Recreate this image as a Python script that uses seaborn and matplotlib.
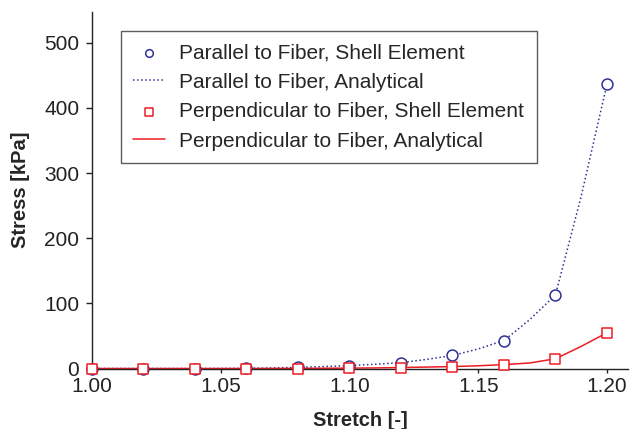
import matplotlib.pyplot as plt
import pandas as pd
import seaborn as sns

# Shell element results (every 0.02 in stretch)
stretch_fe = [1.00, 1.02, 1.04, 1.06, 1.08, 1.10, 1.12, 1.14, 1.16, 1.18, 1.20]
par_fe = [0, 0, 0, 0.3, 2, 4, 9, 20, 43, 113, 437]
perp_fe = [0, 0, 0, 0, 0, 0.5, 1.5, 3, 6, 15, 55]

# Analytical curves (read at 0.01 steps)
stretch_an = [1.00, 1.01, 1.02, 1.03, 1.04, 1.05, 1.06, 1.07, 1.08, 1.09, 1.10,
              1.11, 1.12, 1.13, 1.14, 1.15, 1.16, 1.17, 1.18, 1.19, 1.20]
par_an = [0, 0, 0, 0, 0, 0.1, 0.3, 0.8, 1.8, 3, 4.5,
          6.5, 9, 14, 20, 30, 43, 75, 113, 265, 437]
perp_an = [0, 0, 0, 0, 0, 0, 0, 0.1, 0.2, 0.4, 0.6,
           0.9, 1.5, 2.2, 3, 4.2, 6, 8.5, 15, 34, 55]

blue = "#2e3192"
red = "#ed1c24"

fe = pd.DataFrame({"stretch": stretch_fe, "par": par_fe, "perp": perp_fe})
an = pd.DataFrame({"stretch": stretch_an, "par": par_an, "perp": perp_an})

sns.set_style("ticks")
plt.rcParams["font.family"] = ["Liberation Sans", "DejaVu Sans"]

fig = plt.figure(figsize=(6.3, 4.29), dpi=100)
ax = fig.add_axes([0.1455, 0.141, 0.852, 0.832])

sns.lineplot(data=an, x="stretch", y="par", color=blue, linestyle=":", lw=1.1,
             label="Parallel to Fiber, Analytical", ax=ax, zorder=2)
sns.lineplot(data=an, x="stretch", y="perp", color=red, linestyle="-", lw=1.1,
             label="Perpendicular to Fiber, Analytical", ax=ax, zorder=2)
sns.scatterplot(data=fe, x="stretch", y="par", marker="o", s=62, facecolor="white",
                edgecolor=blue, linewidth=1.1, label="Parallel to Fiber, Shell Element",
                ax=ax, zorder=3, clip_on=False)
sns.scatterplot(data=fe, x="stretch", y="perp", marker="s", s=58, facecolor="white",
                edgecolor=red, linewidth=1.1, label="Perpendicular to Fiber, Shell Element",
                ax=ax, zorder=4, clip_on=False)

ax.set_xlim(1.0, 1.2083)
ax.set_ylim(0, 548)
ax.set_xticks([1.00, 1.05, 1.10, 1.15, 1.20])
ax.set_xticklabels(["1.00", "1.05", "1.10", "1.15", "1.20"])
ax.set_yticks([0, 100, 200, 300, 400, 500])
ax.tick_params(labelsize=15, width=1, colors="#222222")
ax.tick_params(axis="x", length=3, pad=3)
ax.tick_params(axis="y", length=4, pad=5)
ax.set_xlabel("Stretch [-]", fontsize=14.5, fontweight="bold", labelpad=11)
ax.set_ylabel("Stress [kPa]", fontsize=14.5, fontweight="bold", labelpad=10)
sns.despine(ax=ax)
for sp in ["left", "bottom"]:
    ax.spines[sp].set_linewidth(1)
    ax.spines[sp].set_color("#222222")

handles, labels = ax.get_legend_handles_labels()
order = [2, 0, 3, 1]
leg = ax.legend([handles[i] for i in order], [labels[i] for i in order],
                loc="upper left", bbox_to_anchor=(0.0546, 0.946), fontsize=15,
                markerscale=0.7, frameon=True, fancybox=False, edgecolor="#333333",
                handlelength=1.5, borderpad=0.6, labelspacing=0.5, handletextpad=0.7,
                borderaxespad=0)
leg.get_frame().set_linewidth(1)

fig.savefig("out.png", dpi=100)
